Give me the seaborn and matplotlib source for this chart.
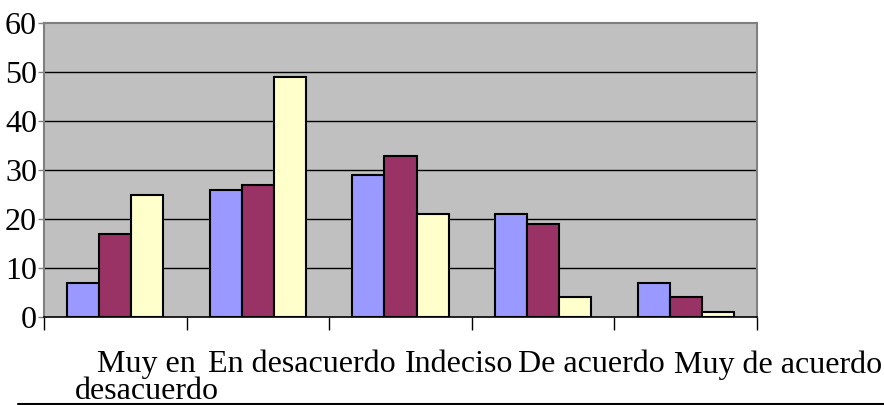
import matplotlib.pyplot as plt
import pandas as pd
import seaborn as sns

categorias = ['Muy en\ndesacuerdo', 'En desacuerdo', 'Indeciso',
              'De acuerdo', 'Muy de acuerdo']
series = ['Serie 1', 'Serie 2', 'Serie 3']
serie1 = [7, 26, 29, 21, 7]
serie2 = [17, 27, 33, 19, 4]
serie3 = [25, 49, 21, 4, 1]
colores = ['#9999FF', '#993366', '#FFFFCC']
y_ticks = [0, 10, 20, 30, 40, 50, 60]

df = pd.DataFrame({
    'categoria': categorias * 3,
    'serie': [s for s in series for _ in categorias],
    'valor': serie1 + serie2 + serie3,
})

sns.set_style('white')
plt.rcParams['font.family'] = ['Liberation Serif', 'DejaVu Serif']
plt.rcParams['text.color'] = 'black'
plt.rcParams['ytick.labelcolor'] = 'black'

fig = plt.figure(figsize=(8.84, 4.05), dpi=100)
ax = fig.add_axes([0.0498, 0.2173, 0.8066, 0.7247])
ax.set_facecolor('#C0C0C0')

sns.barplot(data=df, x='categoria', y='valor', hue='serie',
            order=categorias, hue_order=series, palette=colores,
            width=0.675, edgecolor='black', linewidth=1.5,
            saturation=1, legend=False, ax=ax, zorder=3)

ax.set_xlim(-0.5, len(categorias) - 0.5)
ax.set_ylim(0, 60)
ax.set_yticks(y_ticks)
ax.set_yticklabels([str(t) for t in y_ticks], fontsize=23, color='black')
for t in y_ticks[1:-1]:
    ax.axhline(t, color='black', lw=1, zorder=1)

ax.set_xlabel('')
ax.set_ylabel('')
ax.set_xticks([i - 0.5 for i in range(len(categorias) + 1)])
ax.set_xticklabels([])
ax.tick_params(axis='x', direction='out', length=9, width=1,
               color='black', bottom=True)
ax.tick_params(axis='y', direction='out', length=4, width=1,
               color='#808080', pad=1, left=True)

for side in ['left', 'top', 'right']:
    ax.spines[side].set_color('#808080')
    ax.spines[side].set_linewidth(1.5)
ax.spines['bottom'].set_color('black')
ax.spines['bottom'].set_linewidth(1.2)

# etiquetas desplazadas como en la hoja original
pos_etiquetas = [0.22, 1.31, 2.41, 3.34, 4.65]
for x, texto in zip(pos_etiquetas, categorias):
    ax.text(x, -6.8, texto, ha='center', va='top', fontsize=23,
            linespacing=0.92, clip_on=False, color='black')

fig.add_artist(plt.Line2D([18 / 884, 1], [1 / 405, 1 / 405],
                          color='black', lw=1.5))

fig.savefig('out.png', dpi=100)
